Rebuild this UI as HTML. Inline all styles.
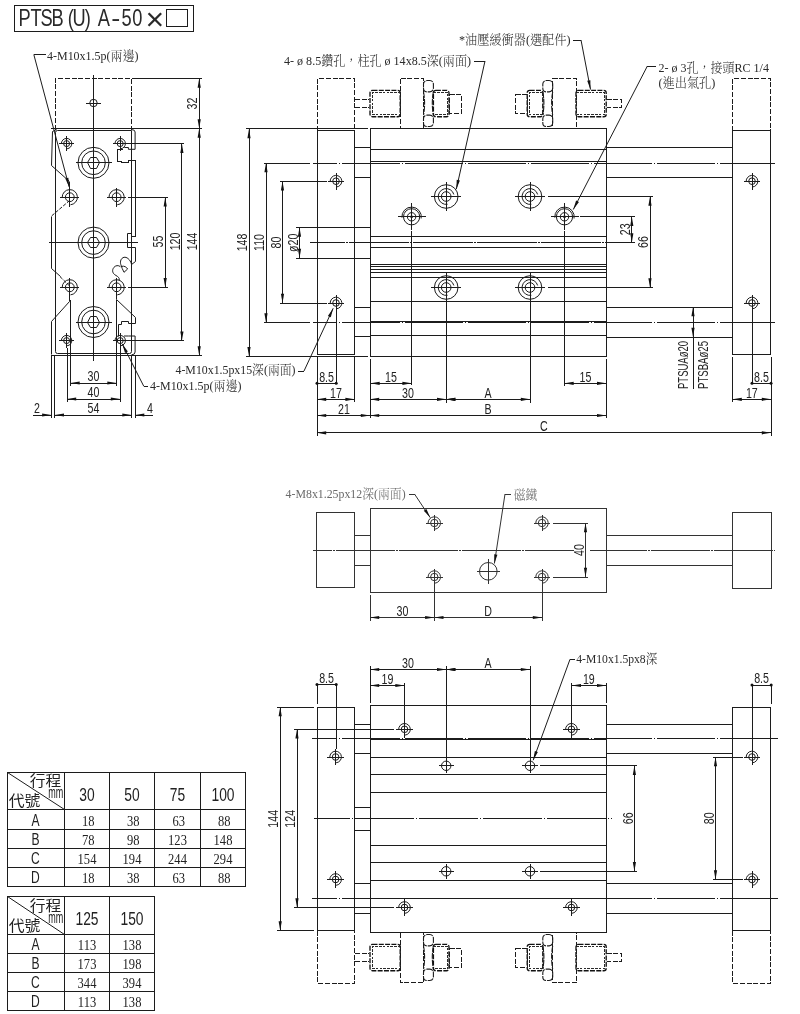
<!DOCTYPE html>
<html lang="zh-Hant">
<head>
<meta charset="utf-8">
<title>PTSB(U)A-50</title>
<style>
html,body{margin:0;padding:0;background:#fff}
svg{display:block;will-change:transform;opacity:.999}
.l{fill:none;stroke:#1c1c1c;stroke-width:1}
.tb{fill:none;stroke:#1c1c1c;stroke-width:1}
.cl{fill:none;stroke:#1c1c1c;stroke-width:1;stroke-dasharray:58 2 2.5 2}
.ds{fill:none;stroke:#1c1c1c;stroke-width:1;stroke-dasharray:5 1.7}
.ds2{fill:none;stroke:#2a2a2a;stroke-width:1.3;stroke-dasharray:2.6 1.2}
.dr{fill:none;stroke:#111;stroke-width:1.35;stroke-dasharray:5 1.3}
.ds3{fill:none;stroke:#1c1c1c;stroke-width:1;stroke-dasharray:3.5 1.5}
.dn{fill:none;stroke:#1c1c1c;stroke-width:1.1;stroke-dasharray:6 1}
.a{fill:#111;stroke:none}
.w{fill:#fff;stroke:none}
.c{shape-rendering:crispEdges}
.lk{fill:none;stroke:#1c1c1c;stroke-width:1.7}
text{fill:#1c1c1c}
.t{font-family:"Liberation Sans",sans-serif;font-size:23.4px;fill:#2a2a2a}
.tx{font-family:"Liberation Sans",sans-serif;font-size:32px;fill:#2a2a2a}
.d{font-family:"Liberation Sans",sans-serif;font-size:14.8px;fill:#222}
.d2{font-family:"Liberation Sans",sans-serif;font-size:14.8px;fill:#222}
.s{font-family:"Liberation Serif","Noto Serif CJK SC",serif;font-size:12.8px;font-weight:300;fill:#2a2a2a}
.sg{font-family:"Liberation Serif","Noto Serif CJK SC",serif;font-size:12.8px;font-weight:300;fill:#6a6a6a}
.mid .l,.mid .cl{stroke:#333}
.h{font-family:"Liberation Sans","Noto Sans CJK TC",sans-serif;font-size:15px;fill:#222}
.hm{font-family:"Liberation Sans",sans-serif;font-size:17px;fill:#222}
.hn{font-family:"Liberation Sans",sans-serif;font-size:18.2px;fill:#222}
.hl{font-family:"Liberation Sans",sans-serif;font-size:15.9px;fill:#222}
.tn{font-family:"Liberation Serif",serif;font-size:14.6px;fill:#222}
</style>
</head>
<body>
<svg width="800" height="1014" viewBox="0 0 800 1014">
<rect x="0" y="0" width="800" height="1014" fill="#fff"/>
<rect class="l c" x="14.5" y="5.5" width="179" height="26"/>
<text class="t" transform="translate(0 26.2) scale(0.78 1)" x="23.59 38.97 51.92 66.15 86.79 92.95 108.59 125.38">PTSB(U)A<tspan x="142.56" textLength="11.54" lengthAdjust="spacingAndGlyphs">-</tspan><tspan x="155.64 169.62">50</tspan></text>
<text class="tx" x="145.6" y="30.2">×</text>
<rect class="l c" x="166.5" y="9.5" width="21" height="17"/>
<path class="ds c" d="M55.5 129.5 L55.5 78.5 L131.5 78.5 L131.5 129.5"/>
<circle class="l" cx="93.5" cy="103" r="3.7"/>
<line class="l c" x1="86" y1="103.5" x2="101" y2="103.5"/>
<line class="l c" x1="93.5" y1="95.5" x2="93.5" y2="110.5"/>
<line class="l c" x1="93.5" y1="75" x2="93.5" y2="361"/>
<path class="l" d="M55.5 132.5 Q55.5 130.5 57.5 130.5 L131.5 130.5 L131.5 351.5 Q131.5 353.5 129.5 353.5 L57.5 353.5 Q55.5 353.5 55.5 351.5 Z"/>
<path class="l" d="M56.5 129.5 L52.5 131.5 L51.5 165.5 L69.5 181.5"/>
<line class="l c" x1="69.5" y1="181.5" x2="69.5" y2="190"/>
<line class="ds3" x1="69.6" y1="200.5" x2="51.5" y2="216"/>
<path class="l" d="M51.5 216.5 L51.5 268.5 L60.5 276.5"/>
<line class="ds3" x1="60" y1="276.6" x2="69.6" y2="286"/>
<path class="l" d="M69.5 290.5 L69.5 301.5 L51.5 321.5 L51.5 354.5"/>
<line class="l c" x1="51.5" y1="354.8" x2="51.5" y2="417.5"/>
<path class="l" d="M131.5 129.6 Q135.1 129.6 135.1 132 L135.1 149.3 L128.4 149.3 L128.4 147.5 L124.3 147.5"/>
<path class="l c" d="M122.5 149.5 L117.5 149.5 L117.5 161.5 L121.5 161.5 L121.5 162.5 L128.5 162.5 L128.5 160.5 L135.5 160.5 L135.5 236.5 L131.5 236.5"/>
<path class="l" d="M131.5 233.5 L127.5 233.5 L127.5 247.5 L135.5 247.5 L135.5 261.5 L131.5 264.5"/>
<path class="l" d="M131.6 264.3 C130 259 126.5 256.8 124 257.3 C121 258 119.8 261.5 120.8 264.5 C121.5 267 122.8 270 124 272.3 L127.6 269 C126.5 267 124.2 265.6 121.6 266.4"/>
<path class="l" d="M120.4 266.7 C118.5 265 115.5 265.3 113.8 267.5 C112 270 112.3 272.5 114.5 274.5 C116.5 276 118.6 276.6 119.2 278.6 L119.2 280.5"/>
<path class="l" d="M116.5 291.5 L116.5 299.5 L135.5 317.5 L135.5 323.5 L128.5 323.5 L128.5 321.5 L121.5 321.5 L121.5 324.5 L118.5 324.5 L118.5 336.5"/>
<path class="l" d="M124 336 L128.4 336 L128.4 336 L135.1 336 L135.1 352 Q135.1 354.8 131.5 354.8"/>
<line class="l c" x1="135.5" y1="354.8" x2="135.5" y2="417.5"/>
<circle class="l" cx="93.5" cy="162.8" r="15.5"/>
<circle class="l" cx="93.5" cy="162.8" r="11.8"/>
<path class="l" d="M99.5 162.5 L96.5 168.5 L90.5 168.5 L87.5 162.5 L90.5 157.5 L96.5 157.5 Z"/>
<line class="l c" x1="75.5" y1="162.5" x2="111.5" y2="162.5"/>
<circle class="l" cx="93.5" cy="242.6" r="15.5"/>
<circle class="l" cx="93.5" cy="242.6" r="11.8"/>
<path class="l" d="M99.5 242.5 L96.5 247.5 L90.5 247.5 L87.5 242.5 L90.5 237.5 L96.5 237.5 Z"/>
<line class="l c" x1="75.5" y1="242.5" x2="111.5" y2="242.5"/>
<circle class="l" cx="93.5" cy="322" r="15.5"/>
<circle class="l" cx="93.5" cy="322" r="11.8"/>
<path class="l" d="M99.5 322.5 L96.5 327.5 L90.5 327.5 L87.5 322.5 L90.5 316.5 L96.5 316.5 Z"/>
<line class="l c" x1="75.5" y1="322.5" x2="111.5" y2="322.5"/>
<line class="l c" x1="49" y1="242.5" x2="138" y2="242.5"/>
<circle class="l" cx="66.6" cy="143.6" r="3"/>
<path class="l" d="M61.4 143.78 A5.2 5.2 0 1 1 67.05 148.78"/>
<line class="l c" x1="59" y1="143.5" x2="74.2" y2="143.5"/>
<line class="l c" x1="66.5" y1="136" x2="66.5" y2="151.2"/>
<circle class="l" cx="120.2" cy="143.6" r="3"/>
<path class="l" d="M115 143.78 A5.2 5.2 0 1 1 120.65 148.78"/>
<line class="l c" x1="112.6" y1="143.5" x2="127.8" y2="143.5"/>
<line class="l c" x1="120.5" y1="136" x2="120.5" y2="151.2"/>
<circle class="l" cx="66.6" cy="340.6" r="3"/>
<path class="l" d="M61.4 340.78 A5.2 5.2 0 1 1 67.05 345.78"/>
<line class="l c" x1="59" y1="340.5" x2="74.2" y2="340.5"/>
<line class="l c" x1="66.5" y1="333" x2="66.5" y2="348.2"/>
<circle class="l" cx="120.2" cy="340.6" r="3"/>
<path class="l" d="M115 340.78 A5.2 5.2 0 1 1 120.65 345.78"/>
<line class="l c" x1="112.6" y1="340.5" x2="127.8" y2="340.5"/>
<line class="l c" x1="120.5" y1="333" x2="120.5" y2="348.2"/>
<circle class="l" cx="69.8" cy="197.2" r="4.4"/>
<path class="l" d="M62.2 197.47 A7.6 7.6 0 1 1 70.46 204.77"/>
<line class="l c" x1="60.2" y1="197.5" x2="79.4" y2="197.5"/>
<line class="l c" x1="69.5" y1="187.6" x2="69.5" y2="206.8"/>
<circle class="l" cx="116.6" cy="197.2" r="4.4"/>
<path class="l" d="M109 197.47 A7.6 7.6 0 1 1 117.26 204.77"/>
<line class="l c" x1="107" y1="197.5" x2="126.2" y2="197.5"/>
<line class="l c" x1="116.5" y1="187.6" x2="116.5" y2="206.8"/>
<circle class="l" cx="69.8" cy="287.3" r="4.4"/>
<path class="l" d="M62.2 287.57 A7.6 7.6 0 1 1 70.46 294.87"/>
<line class="l c" x1="60.2" y1="287.5" x2="79.4" y2="287.5"/>
<line class="l c" x1="69.5" y1="277.7" x2="69.5" y2="296.9"/>
<circle class="l" cx="116.6" cy="287.3" r="4.4"/>
<path class="l" d="M109 287.57 A7.6 7.6 0 1 1 117.26 294.87"/>
<line class="l c" x1="107" y1="287.5" x2="126.2" y2="287.5"/>
<line class="l c" x1="116.5" y1="277.7" x2="116.5" y2="296.9"/>
<line class="l c" x1="131.5" y1="78.5" x2="201.5" y2="78.5"/>
<line class="l c" x1="51.3" y1="128.5" x2="201.5" y2="128.5"/>
<line class="l c" x1="51.3" y1="355.5" x2="201.5" y2="355.5"/>
<line class="l c" x1="199.5" y1="78.5" x2="199.5" y2="128.5"/>
<polygon class="a" points="199.2,78.5 200.8,87.7 197.6,87.7"/>
<polygon class="a" points="199.2,128.5 197.6,119.3 200.8,119.3"/>
<text class="d" transform="translate(197.4 103.5) rotate(-90) scale(0.72 1)" text-anchor="middle">32</text>
<line class="l c" x1="199.5" y1="128.5" x2="199.5" y2="355.5"/>
<polygon class="a" points="199.2,128.5 200.8,137.7 197.6,137.7"/>
<polygon class="a" points="199.2,355.5 197.6,346.3 200.8,346.3"/>
<text class="d" transform="translate(197.4 241.5) rotate(-90) scale(0.72 1)" text-anchor="middle">144</text>
<line class="l c" x1="127" y1="143.5" x2="184.3" y2="143.5"/>
<line class="l c" x1="127" y1="340.5" x2="184.3" y2="340.5"/>
<line class="l c" x1="181.5" y1="143.7" x2="181.5" y2="340.6"/>
<polygon class="a" points="181.9,143.7 183.5,152.9 180.3,152.9"/>
<polygon class="a" points="181.9,340.6 180.3,331.4 183.5,331.4"/>
<text class="d" transform="translate(180.1 241.5) rotate(-90) scale(0.72 1)" text-anchor="middle">120</text>
<line class="l c" x1="128" y1="197.5" x2="167.8" y2="197.5"/>
<line class="l c" x1="128" y1="287.5" x2="167.8" y2="287.5"/>
<line class="l c" x1="165.5" y1="197.2" x2="165.5" y2="287.3"/>
<polygon class="a" points="165.2,197.2 166.8,206.4 163.6,206.4"/>
<polygon class="a" points="165.2,287.3 163.6,278.1 166.8,278.1"/>
<text class="d" transform="translate(163.4 241.5) rotate(-90) scale(0.72 1)" text-anchor="middle">55</text>
<line class="l c" x1="70.5" y1="300" x2="70.5" y2="386"/>
<line class="l c" x1="116.5" y1="300" x2="116.5" y2="386"/>
<line class="l c" x1="67.5" y1="348" x2="67.5" y2="402"/>
<line class="l c" x1="120.5" y1="348" x2="120.5" y2="402"/>
<line class="l c" x1="54.5" y1="354.8" x2="54.5" y2="417.5"/>
<line class="l c" x1="131.5" y1="354.8" x2="131.5" y2="417.5"/>
<line class="l c" x1="70.5" y1="383.5" x2="116.5" y2="383.5"/>
<polygon class="a" points="70.5,383 79.7,381.4 79.7,384.6"/>
<polygon class="a" points="116.5,383 107.3,384.6 107.3,381.4"/>
<text class="d" transform="translate(93.5 381.4) scale(0.72 1)" text-anchor="middle">30</text>
<line class="l c" x1="67" y1="399.5" x2="120" y2="399.5"/>
<polygon class="a" points="67,399 76.2,397.4 76.2,400.6"/>
<polygon class="a" points="120,399 110.8,400.6 110.8,397.4"/>
<text class="d" transform="translate(93.5 397.4) scale(0.72 1)" text-anchor="middle">40</text>
<line class="l c" x1="54.8" y1="415.5" x2="131.5" y2="415.5"/>
<polygon class="a" points="54.8,415 64,413.4 64,416.6"/>
<polygon class="a" points="131.5,415 122.3,416.6 122.3,413.4"/>
<text class="d" transform="translate(93.5 413.4) scale(0.72 1)" text-anchor="middle">54</text>
<line class="l c" x1="33" y1="415.5" x2="51.3" y2="415.5"/>
<polygon class="a" points="51.3,415 42.1,416.6 42.1,413.4"/>
<line class="l c" x1="135.1" y1="415.5" x2="153" y2="415.5"/>
<polygon class="a" points="135.1,415 144.3,413.4 144.3,416.6"/>
<text class="d" transform="translate(37 412.7) scale(0.72 1)" text-anchor="middle">2</text>
<text class="d" transform="translate(150 412.7) scale(0.72 1)" text-anchor="middle">4</text>
<line class="l c" x1="46" y1="54.5" x2="33.8" y2="54.5"/>
<line class="l" x1="33.8" y1="54.5" x2="69.2" y2="187"/>
<polygon class="a" points="69.2,187 65.28,178.52 68.37,177.7"/>
<line class="l c" x1="148" y1="386.5" x2="143.8" y2="386.5"/>
<line class="l" x1="143.8" y1="386.3" x2="122.3" y2="344"/>
<polygon class="a" points="122.3,344 127.89,351.48 125.04,352.93"/>
<text class="s" transform="translate(47 60.3)" text-anchor="start" textLength="91.5" lengthAdjust="spacingAndGlyphs">4-M10x1.5p(兩邊)</text>
<text class="s" transform="translate(150 390.3)" text-anchor="start" textLength="91.5" lengthAdjust="spacingAndGlyphs">4-M10x1.5p(兩邊)</text>
<line class="ds c" x1="355" y1="99.5" x2="369" y2="99.5"/>
<line class="ds c" x1="355" y1="107.5" x2="369" y2="107.5"/>
<rect class="dr" x="370" y="90.3" width="30.2" height="26.4" rx="2.5"/>
<path class="ds2 c" d="M400.5 92.5 L372.5 92.5 L372.5 114.5 L400.5 114.5"/>
<rect class="ds c" x="400.5" y="78.5" width="23" height="50"/>
<rect class="dn" x="423.5" y="80.5" width="9.9" height="11.4" rx="3.6"/>
<rect class="dn" x="423.5" y="115.1" width="9.9" height="11.4" rx="3.6"/>
<path class="dn" d="M423.5 91.9 Q425.7 103.5 423.5 115.1 M433.4 91.9 Q431.2 103.5 433.4 115.1"/>
<rect class="dr" x="433.4" y="90.3" width="15.6" height="26.4" rx="2.5"/>
<path class="ds2 c" d="M433.5 92.5 L447.5 92.5 L447.5 114.5 L433.5 114.5"/>
<rect class="ds c" x="449.5" y="94.5" width="12" height="19"/>
<path class="ds c" d="M606.5 99.5 L621.5 99.5 L621.5 107.5 L606.5 107.5"/>
<rect class="dr" x="576" y="90.3" width="30.2" height="26.4" rx="2.5"/>
<path class="ds2 c" d="M576.5 92.5 L604.5 92.5 L604.5 114.5 L576.5 114.5"/>
<rect class="ds c" x="552.5" y="78.5" width="24" height="50"/>
<rect class="dn" x="542.8" y="80.5" width="9.9" height="11.4" rx="3.6"/>
<rect class="dn" x="542.8" y="115.1" width="9.9" height="11.4" rx="3.6"/>
<path class="dn" d="M542.8 91.9 Q545 103.5 542.8 115.1 M552.7 91.9 Q550.5 103.5 552.7 115.1"/>
<rect class="dr" x="527.2" y="90.3" width="15.6" height="26.4" rx="2.5"/>
<path class="ds2 c" d="M542.5 92.5 L529.5 92.5 L529.5 114.5 L542.5 114.5"/>
<rect class="ds c" x="515.5" y="94.5" width="12" height="19"/>
<line class="ds c" x1="355" y1="953.5" x2="369" y2="953.5"/>
<line class="ds c" x1="355" y1="961.5" x2="369" y2="961.5"/>
<rect class="dr" x="370" y="944.3" width="30.2" height="26.4" rx="2.5"/>
<path class="ds2 c" d="M400.5 946.5 L372.5 946.5 L372.5 968.5 L400.5 968.5"/>
<rect class="ds c" x="400.5" y="932.5" width="23" height="50"/>
<rect class="dn" x="423.5" y="934.5" width="9.9" height="11.4" rx="3.6"/>
<rect class="dn" x="423.5" y="969.1" width="9.9" height="11.4" rx="3.6"/>
<path class="dn" d="M423.5 945.9 Q425.7 957.5 423.5 969.1 M433.4 945.9 Q431.2 957.5 433.4 969.1"/>
<rect class="dr" x="433.4" y="944.3" width="15.6" height="26.4" rx="2.5"/>
<path class="ds2 c" d="M433.5 946.5 L447.5 946.5 L447.5 968.5 L433.5 968.5"/>
<rect class="ds c" x="449.5" y="948.5" width="12" height="19"/>
<path class="ds c" d="M606.5 953.5 L621.5 953.5 L621.5 961.5 L606.5 961.5"/>
<rect class="dr" x="576" y="944.3" width="30.2" height="26.4" rx="2.5"/>
<path class="ds2 c" d="M576.5 946.5 L604.5 946.5 L604.5 968.5 L576.5 968.5"/>
<rect class="ds c" x="552.5" y="932.5" width="24" height="50"/>
<rect class="dn" x="542.8" y="934.5" width="9.9" height="11.4" rx="3.6"/>
<rect class="dn" x="542.8" y="969.1" width="9.9" height="11.4" rx="3.6"/>
<path class="dn" d="M542.8 945.9 Q545 957.5 542.8 969.1 M552.7 945.9 Q550.5 957.5 552.7 969.1"/>
<rect class="dr" x="527.2" y="944.3" width="15.6" height="26.4" rx="2.5"/>
<path class="ds2 c" d="M542.5 946.5 L529.5 946.5 L529.5 968.5 L542.5 968.5"/>
<rect class="ds c" x="515.5" y="948.5" width="12" height="19"/>
<path class="ds c" d="M317.5 130.5 L317.5 78.5 L354.5 78.5 L354.5 130.5"/>
<path class="ds c" d="M732.5 130.5 L732.5 78.5 L770.5 78.5 L770.5 130.5"/>
<rect class="l c" x="317.5" y="130.5" width="37" height="224"/>
<rect class="l c" x="732.5" y="130.5" width="38" height="224"/>
<rect class="l c" x="370.5" y="128.5" width="236" height="228"/>
<line class="l c" x1="370.3" y1="149.5" x2="606.2" y2="149.5"/>
<line class="l c" x1="370.3" y1="161.5" x2="606.2" y2="161.5"/>
<line class="l c" x1="370.3" y1="236.5" x2="606.2" y2="236.5"/>
<line class="l c" x1="370.3" y1="247.5" x2="606.2" y2="247.5"/>
<line class="l c" x1="370.3" y1="264.5" x2="606.2" y2="264.5"/>
<line class="l c" x1="370.3" y1="266.5" x2="606.2" y2="266.5"/>
<line class="l c" x1="370.3" y1="269.5" x2="606.2" y2="269.5"/>
<line class="l c" x1="370.3" y1="272.5" x2="606.2" y2="272.5"/>
<line class="l c" x1="370.3" y1="277.5" x2="606.2" y2="277.5"/>
<line class="l c" x1="370.3" y1="301.5" x2="606.2" y2="301.5"/>
<line class="l c" x1="370.3" y1="321.5" x2="606.2" y2="321.5"/>
<line class="l c" x1="370.3" y1="335.5" x2="606.2" y2="335.5"/>
<line class="l c" x1="354.6" y1="147.5" x2="370.3" y2="147.5"/>
<line class="l c" x1="354.6" y1="177.5" x2="370.3" y2="177.5"/>
<line class="l c" x1="354.6" y1="227.5" x2="370.3" y2="227.5"/>
<line class="l c" x1="354.6" y1="258.5" x2="370.3" y2="258.5"/>
<line class="l c" x1="354.6" y1="307.5" x2="370.3" y2="307.5"/>
<line class="l c" x1="354.6" y1="336.5" x2="370.3" y2="336.5"/>
<line class="l c" x1="606.2" y1="147.5" x2="732.6" y2="147.5"/>
<line class="l c" x1="606.2" y1="177.5" x2="732.6" y2="177.5"/>
<line class="l c" x1="606.2" y1="307.5" x2="732.6" y2="307.5"/>
<line class="l c" x1="606.2" y1="337.5" x2="732.6" y2="337.5"/>
<line class="l c" x1="264" y1="163.5" x2="310" y2="163.5"/>
<line class="l c" x1="264" y1="322.5" x2="310" y2="322.5"/>
<line class="cl c" style="stroke-dasharray:58.5 1.5 1.5 1.5;stroke-dashoffset:33.75" x1="312.5" y1="163.5" x2="774.5" y2="163.5"/>
<line class="cl c" style="stroke-dasharray:58.5 1.5 1.5 1.5;stroke-dashoffset:33.75" x1="312.5" y1="322.5" x2="774.5" y2="322.5"/>
<line class="cl c" style="stroke-dasharray:59.5 1.5 1.5 1.5;stroke-dashoffset:24.75" x1="310" y1="242.5" x2="634.5" y2="242.5"/>
<line class="l c" x1="246" y1="128.5" x2="367.5" y2="128.5"/>
<line class="l c" x1="246" y1="356.5" x2="367.5" y2="356.5"/>
<circle class="l" cx="336" cy="181.2" r="3.3"/>
<path class="l" d="M330.2 181.4 A5.8 5.8 0 1 1 336.51 186.98"/>
<line class="l c" x1="327.6" y1="181.5" x2="344.4" y2="181.5"/>
<line class="l c" x1="336.5" y1="172.8" x2="336.5" y2="189.6"/>
<circle class="l" cx="336" cy="303" r="3.3"/>
<path class="l" d="M330.2 303.2 A5.8 5.8 0 1 1 336.51 308.78"/>
<line class="l c" x1="327.6" y1="303.5" x2="344.4" y2="303.5"/>
<line class="l c" x1="336.5" y1="294.6" x2="336.5" y2="311.4"/>
<circle class="l" cx="752" cy="181.2" r="3.3"/>
<path class="l" d="M746.2 181.4 A5.8 5.8 0 1 1 752.51 186.98"/>
<line class="l c" x1="743.6" y1="181.5" x2="760.4" y2="181.5"/>
<line class="l c" x1="752.5" y1="172.8" x2="752.5" y2="189.6"/>
<circle class="l" cx="752" cy="303" r="3.3"/>
<path class="l" d="M746.2 303.2 A5.8 5.8 0 1 1 752.51 308.78"/>
<line class="l c" x1="743.6" y1="303.5" x2="760.4" y2="303.5"/>
<line class="l c" x1="752.5" y1="294.6" x2="752.5" y2="311.4"/>
<circle class="l" cx="446.2" cy="196.5" r="11.8"/>
<path class="l" d="M447.57 204.28 A7.9 7.9 0 1 1 453.83 194.46"/>
<circle class="l" cx="446.2" cy="196.5" r="4.8"/>
<line class="l c" x1="431.4" y1="196.5" x2="461" y2="196.5"/>
<line class="l c" x1="446.5" y1="181.7" x2="446.5" y2="211.3"/>
<circle class="l" cx="446.2" cy="287.5" r="11.8"/>
<path class="l" d="M447.57 295.28 A7.9 7.9 0 1 1 453.83 285.46"/>
<circle class="l" cx="446.2" cy="287.5" r="4.8"/>
<line class="l c" x1="431.4" y1="287.5" x2="461" y2="287.5"/>
<line class="l c" x1="446.5" y1="272.7" x2="446.5" y2="302.3"/>
<circle class="l" cx="530" cy="196.5" r="11.8"/>
<path class="l" d="M531.37 204.28 A7.9 7.9 0 1 1 537.63 194.46"/>
<circle class="l" cx="530" cy="196.5" r="4.8"/>
<line class="l c" x1="515.2" y1="196.5" x2="544.8" y2="196.5"/>
<line class="l c" x1="530.5" y1="181.7" x2="530.5" y2="211.3"/>
<circle class="l" cx="530" cy="287.5" r="11.8"/>
<path class="l" d="M531.37 295.28 A7.9 7.9 0 1 1 537.63 285.46"/>
<circle class="l" cx="530" cy="287.5" r="4.8"/>
<line class="l c" x1="515.2" y1="287.5" x2="544.8" y2="287.5"/>
<line class="l c" x1="530.5" y1="272.7" x2="530.5" y2="302.3"/>
<path class="l" d="M401.94 217.65 A9.7 9.7 0 1 1 421.15 218.48"/>
<circle class="l" cx="411.6" cy="216.8" r="8.1"/>
<circle class="l" cx="411.6" cy="216.8" r="4.2"/>
<circle class="a" cx="411.6" cy="216.8" r="1.4"/>
<line class="l c" x1="397.6" y1="216.5" x2="425.6" y2="216.5"/>
<line class="l c" x1="411.5" y1="203.3" x2="411.5" y2="230.3"/>
<path class="l" d="M554.84 217.65 A9.7 9.7 0 1 1 574.05 218.48"/>
<circle class="l" cx="564.5" cy="216.8" r="8.1"/>
<circle class="l" cx="564.5" cy="216.8" r="4.2"/>
<circle class="a" cx="564.5" cy="216.8" r="1.4"/>
<line class="l c" x1="550.5" y1="216.5" x2="578.5" y2="216.5"/>
<line class="l c" x1="564.5" y1="203.3" x2="564.5" y2="230.3"/>
<line class="l c" x1="249.5" y1="129" x2="249.5" y2="356.2"/>
<polygon class="a" points="249,129 250.6,138.2 247.4,138.2"/>
<polygon class="a" points="249,356.2 247.4,347 250.6,347"/>
<text class="d" transform="translate(247.2 242.5) rotate(-90) scale(0.72 1)" text-anchor="middle">148</text>
<line class="l c" x1="266.5" y1="163" x2="266.5" y2="322.5"/>
<polygon class="a" points="266,163 267.6,172.2 264.4,172.2"/>
<polygon class="a" points="266,322.5 264.4,313.3 267.6,313.3"/>
<text class="d" transform="translate(264.2 242.5) rotate(-90) scale(0.72 1)" text-anchor="middle">110</text>
<line class="l c" x1="280" y1="181.5" x2="327" y2="181.5"/>
<line class="l c" x1="280" y1="303.5" x2="327" y2="303.5"/>
<line class="l c" x1="282.5" y1="181.2" x2="282.5" y2="303"/>
<polygon class="a" points="282.5,181.2 284.1,190.4 280.9,190.4"/>
<polygon class="a" points="282.5,303 280.9,293.8 284.1,293.8"/>
<text class="d" transform="translate(280.7 242.5) rotate(-90) scale(0.72 1)" text-anchor="middle">80</text>
<line class="l c" x1="296" y1="227.5" x2="354.6" y2="227.5"/>
<line class="l c" x1="296" y1="258.5" x2="354.6" y2="258.5"/>
<line class="l c" x1="299.5" y1="227.5" x2="299.5" y2="258"/>
<polygon class="a" points="299.5,227.5 301.1,236.7 297.9,236.7"/>
<polygon class="a" points="299.5,258 297.9,248.8 301.1,248.8"/>
<text class="d" transform="translate(297.7 242.8) rotate(-90) scale(0.72 1)" text-anchor="middle">ø20</text>
<line class="l c" x1="547.5" y1="196.5" x2="652.5" y2="196.5"/>
<line class="l c" x1="547.5" y1="287.5" x2="652.5" y2="287.5"/>
<line class="l c" x1="650.5" y1="196.5" x2="650.5" y2="287.5"/>
<polygon class="a" points="650,196.5 651.6,205.7 648.4,205.7"/>
<polygon class="a" points="650,287.5 648.4,278.3 651.6,278.3"/>
<text class="d" transform="translate(648.2 242) rotate(-90) scale(0.72 1)" text-anchor="middle">66</text>
<line class="l c" x1="580" y1="216.5" x2="634.5" y2="216.5"/>
<line class="l c" x1="631.5" y1="216.8" x2="631.5" y2="242.5"/>
<polygon class="a" points="631.8,216.8 633.4,226 630.2,226"/>
<polygon class="a" points="631.8,242.5 630.2,233.3 633.4,233.3"/>
<text class="d" transform="translate(630 229.3) rotate(-90) scale(0.72 1)" text-anchor="middle">23</text>
<line class="l c" x1="693.5" y1="307" x2="693.5" y2="389"/>
<polygon class="a" points="693,307 694.6,316.2 691.4,316.2"/>
<polygon class="a" points="693,337 691.4,327.8 694.6,327.8"/>
<text class="d2" transform="translate(688 389) rotate(-90)" text-anchor="start" textLength="48" lengthAdjust="spacingAndGlyphs">PTSUAø20</text>
<text class="d2" transform="translate(707.8 389) rotate(-90)" text-anchor="start" textLength="48" lengthAdjust="spacingAndGlyphs">PTSBAø25</text>
<line class="l c" x1="317.5" y1="356.5" x2="317.5" y2="436"/>
<line class="l c" x1="336.5" y1="311" x2="336.5" y2="384"/>
<line class="l c" x1="354.5" y1="356.5" x2="354.5" y2="401.5"/>
<line class="l c" x1="370.5" y1="359" x2="370.5" y2="418"/>
<line class="l c" x1="411.5" y1="231" x2="411.5" y2="384.5"/>
<line class="l c" x1="446.5" y1="272.6" x2="446.5" y2="402.5"/>
<line class="l c" x1="530.5" y1="272.6" x2="530.5" y2="402.5"/>
<line class="l c" x1="564.5" y1="231" x2="564.5" y2="386"/>
<line class="l c" x1="606.5" y1="359" x2="606.5" y2="418"/>
<line class="l c" x1="732.5" y1="357" x2="732.5" y2="402"/>
<line class="l c" x1="752.5" y1="311" x2="752.5" y2="384"/>
<line class="l c" x1="771.5" y1="357" x2="771.5" y2="435.5"/>
<line class="l c" x1="317" y1="383.5" x2="336.2" y2="383.5"/>
<circle class="a" cx="317" cy="383.3" r="1.5"/>
<circle class="a" cx="336.2" cy="383.3" r="1.5"/>
<text class="d" transform="translate(326.6 381.7) scale(0.72 1)" text-anchor="middle">8.5</text>
<line class="l c" x1="317" y1="399.5" x2="354.6" y2="399.5"/>
<polygon class="a" points="317,399.3 326.2,397.7 326.2,400.9"/>
<polygon class="a" points="354.6,399.3 345.4,400.9 345.4,397.7"/>
<text class="d" transform="translate(336 397.7) scale(0.72 1)" text-anchor="middle">17</text>
<line class="l c" x1="317" y1="415.5" x2="370" y2="415.5"/>
<polygon class="a" points="317,415.5 326.2,413.9 326.2,417.1"/>
<polygon class="a" points="370,415.5 360.8,417.1 360.8,413.9"/>
<text class="d" transform="translate(344 413.9) scale(0.72 1)" text-anchor="middle">21</text>
<line class="l c" x1="317" y1="432.5" x2="771" y2="432.5"/>
<polygon class="a" points="317,432.8 326.2,431.2 326.2,434.4"/>
<polygon class="a" points="771,432.8 761.8,434.4 761.8,431.2"/>
<text class="d" transform="translate(543.8 431.2) scale(0.72 1)" text-anchor="middle">C</text>
<line class="l c" x1="370.5" y1="383.5" x2="411.6" y2="383.5"/>
<polygon class="a" points="370.5,383.3 379.7,381.7 379.7,384.9"/>
<polygon class="a" points="411.6,383.3 402.4,384.9 402.4,381.7"/>
<text class="d" transform="translate(391 381.7) scale(0.72 1)" text-anchor="middle">15</text>
<line class="l c" x1="370" y1="399.5" x2="446.2" y2="399.5"/>
<polygon class="a" points="370,399.3 379.2,397.7 379.2,400.9"/>
<polygon class="a" points="446.2,399.3 437,400.9 437,397.7"/>
<text class="d" transform="translate(408 397.7) scale(0.72 1)" text-anchor="middle">30</text>
<polygon class="a" points="446.2,399.3 455.4,397.7 455.4,400.9"/>
<line class="l c" x1="446.2" y1="399.5" x2="530" y2="399.5"/>
<polygon class="a" points="446.2,399.3 455.4,397.7 455.4,400.9"/>
<polygon class="a" points="530,399.3 520.8,400.9 520.8,397.7"/>
<text class="d" transform="translate(488 397.7) scale(0.72 1)" text-anchor="middle">A</text>
<line class="l c" x1="370" y1="415.5" x2="606.2" y2="415.5"/>
<polygon class="a" points="370,415.5 379.2,413.9 379.2,417.1"/>
<polygon class="a" points="606.2,415.5 597,417.1 597,413.9"/>
<text class="d" transform="translate(488 413.9) scale(0.72 1)" text-anchor="middle">B</text>
<line class="l c" x1="564.5" y1="383.5" x2="606.2" y2="383.5"/>
<polygon class="a" points="564.5,383.3 573.7,381.7 573.7,384.9"/>
<polygon class="a" points="606.2,383.3 597,384.9 597,381.7"/>
<text class="d" transform="translate(585.5 381.7) scale(0.72 1)" text-anchor="middle">15</text>
<line class="l c" x1="752" y1="383.5" x2="771" y2="383.5"/>
<circle class="a" cx="752" cy="383.3" r="1.5"/>
<circle class="a" cx="771" cy="383.3" r="1.5"/>
<text class="d" transform="translate(761.5 381.7) scale(0.72 1)" text-anchor="middle">8.5</text>
<line class="l c" x1="732.6" y1="399.5" x2="771" y2="399.5"/>
<polygon class="a" points="732.6,399.3 741.8,397.7 741.8,400.9"/>
<polygon class="a" points="771,399.3 761.8,400.9 761.8,397.7"/>
<text class="d" transform="translate(751.8 397.7) scale(0.72 1)" text-anchor="middle">17</text>
<text class="s" transform="translate(284 64.8)" text-anchor="start" textLength="187" lengthAdjust="spacingAndGlyphs">4- ø 8.5鑽孔，柱孔 ø 14x8.5深(兩面)</text>
<line class="l c" x1="474" y1="61.5" x2="485" y2="61.5"/>
<line class="l" x1="485" y1="61" x2="456.3" y2="189.2"/>
<polygon class="a" points="456.3,189.2 456.75,179.87 459.87,180.57"/>
<text class="s" transform="translate(459 44.3)" text-anchor="start" textLength="111.5" lengthAdjust="spacingAndGlyphs">*油壓緩衝器(選配件)</text>
<line class="l c" x1="572.5" y1="40.5" x2="581" y2="40.5"/>
<line class="l" x1="581" y1="40" x2="590.5" y2="89.5"/>
<polygon class="a" points="590.5,89.5 587.19,80.77 590.34,80.16"/>
<text class="s" transform="translate(658.4 71.6)" text-anchor="start" textLength="110.5" lengthAdjust="spacingAndGlyphs">2- ø 3孔，接頭RC 1/4</text>
<text class="s" transform="translate(658.4 86.9)" text-anchor="start" textLength="57" lengthAdjust="spacingAndGlyphs">(進出氣孔)</text>
<line class="l c" x1="656" y1="66.5" x2="647.4" y2="66.5"/>
<line class="l" x1="647.4" y1="66" x2="573.3" y2="209.5"/>
<polygon class="a" points="573.3,209.5 576.1,200.59 578.94,202.06"/>
<text class="s" transform="translate(175.5 374.3)" text-anchor="start" textLength="120" lengthAdjust="spacingAndGlyphs">4-M10x1.5px15深(兩面)</text>
<line class="l c" x1="297.5" y1="371.5" x2="304" y2="371.5"/>
<line class="l" x1="304" y1="371" x2="333.2" y2="308.3"/>
<polygon class="a" points="333.2,308.3 330.77,317.32 327.87,315.96"/>
<g class="mid">
<rect class="l c" x="370.5" y="508.5" width="236" height="84"/>
<rect class="l c" x="316.5" y="512.5" width="38" height="75"/>
<rect class="l c" x="732.5" y="512.5" width="39" height="76"/>
<line class="l c" x1="354.6" y1="535.5" x2="370" y2="535.5"/>
<line class="l c" x1="606.3" y1="535.5" x2="732.6" y2="535.5"/>
<line class="l c" x1="354.6" y1="565.5" x2="370" y2="565.5"/>
<line class="l c" x1="606.3" y1="565.5" x2="732.6" y2="565.5"/>
<line class="cl c" style="stroke-dasharray:58.5 1.5 1.5 1.5;stroke-dashoffset:39.25" x1="312.5" y1="550.5" x2="774.5" y2="550.5"/>
<circle class="l" cx="434.3" cy="523" r="3.7"/>
<path class="l" d="M428.1 523.22 A6.2 6.2 0 1 1 434.84 529.18"/>
<line class="l c" x1="425.9" y1="523.5" x2="442.7" y2="523.5"/>
<line class="l c" x1="434.5" y1="514.6" x2="434.5" y2="531.4"/>
<circle class="l" cx="434.3" cy="577" r="3.7"/>
<path class="l" d="M428.1 577.22 A6.2 6.2 0 1 1 434.84 583.18"/>
<line class="l c" x1="425.9" y1="577.5" x2="442.7" y2="577.5"/>
<line class="l c" x1="434.5" y1="568.6" x2="434.5" y2="585.4"/>
<circle class="l" cx="542" cy="523" r="3.7"/>
<path class="l" d="M535.8 523.22 A6.2 6.2 0 1 1 542.54 529.18"/>
<line class="l c" x1="533.6" y1="523.5" x2="550.4" y2="523.5"/>
<line class="l c" x1="542.5" y1="514.6" x2="542.5" y2="531.4"/>
<circle class="l" cx="542" cy="577" r="3.7"/>
<path class="l" d="M535.8 577.22 A6.2 6.2 0 1 1 542.54 583.18"/>
<line class="l c" x1="533.6" y1="577.5" x2="550.4" y2="577.5"/>
<line class="l c" x1="542.5" y1="568.6" x2="542.5" y2="585.4"/>
<circle class="l" cx="488.3" cy="571.3" r="8.8"/>
<line class="l c" x1="477" y1="571.5" x2="499.6" y2="571.5"/>
<line class="l c" x1="488.5" y1="558.8" x2="488.5" y2="583.8"/>
<line class="l c" x1="370.5" y1="595" x2="370.5" y2="620.5"/>
<line class="l c" x1="434.5" y1="584" x2="434.5" y2="620.5"/>
<line class="l c" x1="542.5" y1="584" x2="542.5" y2="620.5"/>
<line class="l c" x1="370" y1="617.5" x2="434.3" y2="617.5"/>
<polygon class="a" points="370,617.5 379.2,615.9 379.2,619.1"/>
<polygon class="a" points="434.3,617.5 425.1,619.1 425.1,615.9"/>
<text class="d" transform="translate(402.5 615.9) scale(0.72 1)" text-anchor="middle">30</text>
<line class="l c" x1="434.3" y1="617.5" x2="542" y2="617.5"/>
<polygon class="a" points="434.3,617.5 443.5,615.9 443.5,619.1"/>
<polygon class="a" points="542,617.5 532.8,619.1 532.8,615.9"/>
<text class="d" transform="translate(488 615.9) scale(0.72 1)" text-anchor="middle">D</text>
<line class="l c" x1="552.5" y1="523.5" x2="588" y2="523.5"/>
<line class="l c" x1="552.5" y1="577.5" x2="588" y2="577.5"/>
<rect class="w" x="574" y="548" width="16" height="4"/>
<line class="l c" x1="585.5" y1="523" x2="585.5" y2="577"/>
<polygon class="a" points="585.5,523 587.1,532.2 583.9,532.2"/>
<polygon class="a" points="585.5,577 583.9,567.8 587.1,567.8"/>
<text class="d" transform="translate(583.7 550) rotate(-90) scale(0.72 1)" text-anchor="middle">40</text>
<text class="sg" transform="translate(285.6 497.6)" text-anchor="start" textLength="120" lengthAdjust="spacingAndGlyphs">4-M8x1.25px12深(兩面)</text>
<line class="l c" x1="409" y1="494.5" x2="414.5" y2="494.5"/>
<line class="l" x1="414.5" y1="494" x2="430.2" y2="517.6"/>
<polygon class="a" points="430.2,517.6 423.77,510.83 426.44,509.05"/>
<text class="sg" transform="translate(513.8 498.8)" text-anchor="start" textLength="23.6" lengthAdjust="spacingAndGlyphs">磁鐵</text>
<line class="l c" x1="511" y1="494.5" x2="505" y2="494.5"/>
<line class="l" x1="505" y1="494" x2="494.4" y2="563.5"/>
<polygon class="a" points="494.4,563.5 494.21,554.16 497.37,554.65"/>
</g>
<rect class="l c" x="370.5" y="705.5" width="236" height="227"/>
<rect class="l c" x="317.5" y="707.5" width="37" height="223"/>
<rect class="l c" x="732.5" y="707.5" width="38" height="223"/>
<path class="ds c" d="M317.5 930.5 L317.5 983.5 L354.5 983.5 L354.5 930.5"/>
<path class="ds c" d="M732.5 930.5 L732.5 983.5 L770.5 983.5 L770.5 930.5"/>
<line class="l c" x1="370" y1="757.5" x2="606.2" y2="757.5"/>
<line class="l c" x1="370" y1="774.5" x2="606.2" y2="774.5"/>
<line class="l c" x1="370" y1="792.5" x2="606.2" y2="792.5"/>
<line class="l c" x1="370" y1="845.5" x2="606.2" y2="845.5"/>
<line class="l c" x1="370" y1="862.5" x2="606.2" y2="862.5"/>
<line class="l c" x1="370" y1="880.5" x2="606.2" y2="880.5"/>
<line class="lk c" x1="370" y1="739.5" x2="606.2" y2="739.5"/>
<line class="lk c" x1="370" y1="898.5" x2="606.2" y2="898.5"/>
<line class="l c" x1="354.6" y1="724.5" x2="370" y2="724.5"/>
<line class="l c" x1="354.6" y1="753.5" x2="370" y2="753.5"/>
<line class="l c" x1="354.6" y1="807.5" x2="370" y2="807.5"/>
<line class="l c" x1="354.6" y1="830.5" x2="370" y2="830.5"/>
<line class="l c" x1="354.6" y1="883.5" x2="370" y2="883.5"/>
<line class="l c" x1="354.6" y1="913.5" x2="370" y2="913.5"/>
<line class="l c" x1="606.2" y1="724.5" x2="732.6" y2="724.5"/>
<line class="l c" x1="606.2" y1="753.5" x2="732.6" y2="753.5"/>
<line class="l c" x1="606.2" y1="883.5" x2="732.6" y2="883.5"/>
<line class="l c" x1="606.2" y1="913.5" x2="732.6" y2="913.5"/>
<line class="cl c" style="stroke-dasharray:58.5 1.5 1.5 1.5;stroke-dashoffset:33.25" x1="312" y1="738.5" x2="777.5" y2="738.5"/>
<line class="cl c" style="stroke-dasharray:59.5 1.5 1.5 1.5;stroke-dashoffset:23.05" x1="313.8" y1="818.5" x2="612" y2="818.5"/>
<line class="cl c" style="stroke-dasharray:58.5 1.5 1.5 1.5;stroke-dashoffset:33.25" x1="312" y1="898.5" x2="777.5" y2="898.5"/>
<circle class="l" cx="404.5" cy="729.3" r="3.3"/>
<path class="l" d="M398.7 729.5 A5.8 5.8 0 1 1 405.01 735.08"/>
<line class="l c" x1="396.1" y1="729.5" x2="412.9" y2="729.5"/>
<line class="l c" x1="404.5" y1="720.9" x2="404.5" y2="737.7"/>
<circle class="l" cx="404.5" cy="907.5" r="3.3"/>
<path class="l" d="M398.7 907.7 A5.8 5.8 0 1 1 405.01 913.28"/>
<line class="l c" x1="396.1" y1="907.5" x2="412.9" y2="907.5"/>
<line class="l c" x1="404.5" y1="899.1" x2="404.5" y2="915.9"/>
<circle class="l" cx="571.4" cy="729.3" r="3.3"/>
<path class="l" d="M565.6 729.5 A5.8 5.8 0 1 1 571.91 735.08"/>
<line class="l c" x1="563" y1="729.5" x2="579.8" y2="729.5"/>
<line class="l c" x1="571.5" y1="720.9" x2="571.5" y2="737.7"/>
<circle class="l" cx="571.4" cy="907.5" r="3.3"/>
<path class="l" d="M565.6 907.7 A5.8 5.8 0 1 1 571.91 913.28"/>
<line class="l c" x1="563" y1="907.5" x2="579.8" y2="907.5"/>
<line class="l c" x1="571.5" y1="899.1" x2="571.5" y2="915.9"/>
<circle class="l" cx="335.6" cy="757" r="3.3"/>
<path class="l" d="M329.8 757.2 A5.8 5.8 0 1 1 336.11 762.78"/>
<line class="l c" x1="327.2" y1="757.5" x2="344" y2="757.5"/>
<line class="l c" x1="335.5" y1="748.6" x2="335.5" y2="765.4"/>
<circle class="l" cx="335.6" cy="879.5" r="3.3"/>
<path class="l" d="M329.8 879.7 A5.8 5.8 0 1 1 336.11 885.28"/>
<line class="l c" x1="327.2" y1="879.5" x2="344" y2="879.5"/>
<line class="l c" x1="335.5" y1="871.1" x2="335.5" y2="887.9"/>
<circle class="l" cx="752" cy="757" r="3.3"/>
<path class="l" d="M746.2 757.2 A5.8 5.8 0 1 1 752.51 762.78"/>
<line class="l c" x1="743.6" y1="757.5" x2="760.4" y2="757.5"/>
<line class="l c" x1="752.5" y1="748.6" x2="752.5" y2="765.4"/>
<circle class="l" cx="752" cy="879.5" r="3.3"/>
<path class="l" d="M746.2 879.7 A5.8 5.8 0 1 1 752.51 885.28"/>
<line class="l c" x1="743.6" y1="879.5" x2="760.4" y2="879.5"/>
<line class="l c" x1="752.5" y1="871.1" x2="752.5" y2="887.9"/>
<circle class="l" cx="446.2" cy="765.8" r="4.7"/>
<line class="l c" x1="438.6" y1="765.5" x2="453.8" y2="765.5"/>
<line class="l c" x1="446.5" y1="758.2" x2="446.5" y2="773.4"/>
<circle class="l" cx="446.2" cy="871.3" r="4.7"/>
<line class="l c" x1="438.6" y1="871.5" x2="453.8" y2="871.5"/>
<line class="l c" x1="446.5" y1="863.7" x2="446.5" y2="878.9"/>
<circle class="l" cx="530" cy="765.8" r="4.7"/>
<line class="l c" x1="522.4" y1="765.5" x2="537.6" y2="765.5"/>
<line class="l c" x1="530.5" y1="758.2" x2="530.5" y2="773.4"/>
<circle class="l" cx="530" cy="871.3" r="4.7"/>
<line class="l c" x1="522.4" y1="871.5" x2="537.6" y2="871.5"/>
<line class="l c" x1="530.5" y1="863.7" x2="530.5" y2="878.9"/>
<line class="l c" x1="277" y1="707.5" x2="313.8" y2="707.5"/>
<line class="l c" x1="277" y1="930.5" x2="313.8" y2="930.5"/>
<line class="l c" x1="280.5" y1="707" x2="280.5" y2="930.5"/>
<polygon class="a" points="280.2,707 281.8,716.2 278.6,716.2"/>
<polygon class="a" points="280.2,930.5 278.6,921.3 281.8,921.3"/>
<text class="d" transform="translate(278.4 818.8) rotate(-90) scale(0.72 1)" text-anchor="middle">144</text>
<line class="l c" x1="293.8" y1="729.5" x2="394" y2="729.5"/>
<line class="l c" x1="293.8" y1="907.5" x2="394" y2="907.5"/>
<line class="l c" x1="297.5" y1="729.3" x2="297.5" y2="907.5"/>
<polygon class="a" points="297,729.3 298.6,738.5 295.4,738.5"/>
<polygon class="a" points="297,907.5 295.4,898.3 298.6,898.3"/>
<text class="d" transform="translate(295.2 818.8) rotate(-90) scale(0.72 1)" text-anchor="middle">124</text>
<line class="l c" x1="540" y1="765.5" x2="637" y2="765.5"/>
<line class="l c" x1="540" y1="871.5" x2="637" y2="871.5"/>
<line class="l c" x1="634.5" y1="765.8" x2="634.5" y2="871.3"/>
<polygon class="a" points="634.4,765.8 636,775 632.8,775"/>
<polygon class="a" points="634.4,871.3 632.8,862.1 636,862.1"/>
<text class="d" transform="translate(632.6 818.3) rotate(-90) scale(0.72 1)" text-anchor="middle">66</text>
<line class="l c" x1="712.5" y1="757.5" x2="742.5" y2="757.5"/>
<line class="l c" x1="712.5" y1="879.5" x2="742.5" y2="879.5"/>
<line class="l c" x1="715.5" y1="757" x2="715.5" y2="879.5"/>
<polygon class="a" points="715.5,757 717.1,766.2 713.9,766.2"/>
<polygon class="a" points="715.5,879.5 713.9,870.3 717.1,870.3"/>
<text class="d" transform="translate(713.7 818.3) rotate(-90) scale(0.72 1)" text-anchor="middle">80</text>
<line class="l c" x1="370.5" y1="666" x2="370.5" y2="702.5"/>
<line class="l c" x1="446.5" y1="666" x2="446.5" y2="761"/>
<line class="l c" x1="530.5" y1="666" x2="530.5" y2="761"/>
<line class="l c" x1="404.5" y1="683" x2="404.5" y2="722"/>
<line class="l c" x1="571.5" y1="683" x2="571.5" y2="722"/>
<line class="l c" x1="606.5" y1="682.5" x2="606.5" y2="702.5"/>
<line class="l c" x1="317.5" y1="684.5" x2="317.5" y2="703.8"/>
<line class="l c" x1="336.5" y1="684.5" x2="336.5" y2="749"/>
<line class="l c" x1="752.5" y1="685" x2="752.5" y2="749"/>
<line class="l c" x1="771.5" y1="685" x2="771.5" y2="703.8"/>
<line class="l c" x1="370" y1="669.5" x2="446.2" y2="669.5"/>
<polygon class="a" points="370,669.5 379.2,667.9 379.2,671.1"/>
<polygon class="a" points="446.2,669.5 437,671.1 437,667.9"/>
<text class="d" transform="translate(408 667.9) scale(0.72 1)" text-anchor="middle">30</text>
<polygon class="a" points="446.2,669.5 455.4,667.9 455.4,671.1"/>
<line class="l c" x1="446.2" y1="669.5" x2="530" y2="669.5"/>
<polygon class="a" points="446.2,669.5 455.4,667.9 455.4,671.1"/>
<polygon class="a" points="530,669.5 520.8,671.1 520.8,667.9"/>
<text class="d" transform="translate(488 667.9) scale(0.72 1)" text-anchor="middle">A</text>
<line class="l c" x1="370" y1="685.5" x2="404.5" y2="685.5"/>
<polygon class="a" points="370,685.5 379.2,683.9 379.2,687.1"/>
<polygon class="a" points="404.5,685.5 395.3,687.1 395.3,683.9"/>
<text class="d" transform="translate(387.5 683.9) scale(0.72 1)" text-anchor="middle">19</text>
<line class="l c" x1="571.8" y1="685.5" x2="606.2" y2="685.5"/>
<polygon class="a" points="571.8,685.5 581,683.9 581,687.1"/>
<polygon class="a" points="606.2,685.5 597,687.1 597,683.9"/>
<text class="d" transform="translate(588.8 683.9) scale(0.72 1)" text-anchor="middle">19</text>
<line class="l c" x1="317" y1="684.5" x2="336.2" y2="684.5"/>
<circle class="a" cx="317" cy="684.6" r="1.5"/>
<circle class="a" cx="336.2" cy="684.6" r="1.5"/>
<text class="d" transform="translate(326.6 683) scale(0.72 1)" text-anchor="middle">8.5</text>
<line class="l c" x1="752" y1="685.5" x2="771.2" y2="685.5"/>
<circle class="a" cx="752" cy="685" r="1.5"/>
<circle class="a" cx="771.2" cy="685" r="1.5"/>
<text class="d" transform="translate(761.6 683.4) scale(0.72 1)" text-anchor="middle">8.5</text>
<text class="s" transform="translate(576.3 663.3)" text-anchor="start" textLength="81" lengthAdjust="spacingAndGlyphs">4-M10x1.5px8深</text>
<line class="l c" x1="574.5" y1="659.5" x2="570" y2="659.5"/>
<line class="l" x1="570" y1="659.3" x2="533.2" y2="760.2"/>
<polygon class="a" points="533.2,760.2 534.85,751.01 537.86,752.11"/>
<rect class="tb c" x="7.5" y="772.5" width="238" height="114"/>
<line class="tb c" x1="7.5" y1="809.5" x2="245.5" y2="809.5"/>
<line class="tb c" x1="7.5" y1="829.5" x2="245.5" y2="829.5"/>
<line class="tb c" x1="7.5" y1="848.5" x2="245.5" y2="848.5"/>
<line class="tb c" x1="7.5" y1="867.5" x2="245.5" y2="867.5"/>
<line class="tb c" x1="64.5" y1="772.5" x2="64.5" y2="886.5"/>
<line class="tb c" x1="109.5" y1="772.5" x2="109.5" y2="886.5"/>
<line class="tb c" x1="154.5" y1="772.5" x2="154.5" y2="886.5"/>
<line class="tb c" x1="200.5" y1="772.5" x2="200.5" y2="886.5"/>
<line class="tb" x1="7.5" y1="772.5" x2="64.5" y2="809.5"/>
<text class="h" transform="translate(29.8 786.2)" text-anchor="start" textLength="31.6" lengthAdjust="spacingAndGlyphs">行程</text>
<text class="hm" transform="translate(48.2 798.2)" text-anchor="start" textLength="15" lengthAdjust="spacingAndGlyphs">mm</text>
<text class="h" transform="translate(8.8 806.2)" text-anchor="start" textLength="31.6" lengthAdjust="spacingAndGlyphs">代號</text>
<text class="hn" transform="translate(87 800.6) scale(0.76 1)" text-anchor="middle">30</text>
<text class="hn" transform="translate(132 800.6) scale(0.76 1)" text-anchor="middle">50</text>
<text class="hn" transform="translate(177.5 800.6) scale(0.76 1)" text-anchor="middle">75</text>
<text class="hn" transform="translate(223 800.6) scale(0.76 1)" text-anchor="middle">100</text>
<text class="hl" transform="translate(35.4 826.2) scale(0.76 1)" text-anchor="middle">A</text>
<text class="tn" transform="translate(88.3 825.5) scale(0.86 1)" text-anchor="middle">18</text>
<text class="tn" transform="translate(133.3 825.5) scale(0.86 1)" text-anchor="middle">38</text>
<text class="tn" transform="translate(178.8 825.5) scale(0.86 1)" text-anchor="middle">63</text>
<text class="tn" transform="translate(224.3 825.5) scale(0.86 1)" text-anchor="middle">88</text>
<text class="hl" transform="translate(35.4 845.2) scale(0.76 1)" text-anchor="middle">B</text>
<text class="tn" transform="translate(88.3 844.5) scale(0.86 1)" text-anchor="middle">78</text>
<text class="tn" transform="translate(133.3 844.5) scale(0.86 1)" text-anchor="middle">98</text>
<text class="tn" transform="translate(177.5 844.5) scale(0.86 1)" text-anchor="middle">123</text>
<text class="tn" transform="translate(223 844.5) scale(0.86 1)" text-anchor="middle">148</text>
<text class="hl" transform="translate(35.4 864.2) scale(0.76 1)" text-anchor="middle">C</text>
<text class="tn" transform="translate(87 863.5) scale(0.86 1)" text-anchor="middle">154</text>
<text class="tn" transform="translate(132 863.5) scale(0.86 1)" text-anchor="middle">194</text>
<text class="tn" transform="translate(177.5 863.5) scale(0.86 1)" text-anchor="middle">244</text>
<text class="tn" transform="translate(223 863.5) scale(0.86 1)" text-anchor="middle">294</text>
<text class="hl" transform="translate(35.4 883.2) scale(0.76 1)" text-anchor="middle">D</text>
<text class="tn" transform="translate(88.3 882.5) scale(0.86 1)" text-anchor="middle">18</text>
<text class="tn" transform="translate(133.3 882.5) scale(0.86 1)" text-anchor="middle">38</text>
<text class="tn" transform="translate(178.8 882.5) scale(0.86 1)" text-anchor="middle">63</text>
<text class="tn" transform="translate(224.3 882.5) scale(0.86 1)" text-anchor="middle">88</text>
<rect class="tb c" x="7.5" y="896.5" width="147" height="114"/>
<line class="tb c" x1="7.5" y1="934.5" x2="154.5" y2="934.5"/>
<line class="tb c" x1="7.5" y1="953.5" x2="154.5" y2="953.5"/>
<line class="tb c" x1="7.5" y1="972.5" x2="154.5" y2="972.5"/>
<line class="tb c" x1="7.5" y1="991.5" x2="154.5" y2="991.5"/>
<line class="tb c" x1="64.5" y1="896.5" x2="64.5" y2="1010.5"/>
<line class="tb c" x1="109.5" y1="896.5" x2="109.5" y2="1010.5"/>
<line class="tb" x1="7.5" y1="896.5" x2="64.5" y2="934.5"/>
<text class="h" transform="translate(29.8 910.6)" text-anchor="start" textLength="31.6" lengthAdjust="spacingAndGlyphs">行程</text>
<text class="hm" transform="translate(48.2 922.6)" text-anchor="start" textLength="15" lengthAdjust="spacingAndGlyphs">mm</text>
<text class="h" transform="translate(8.8 930.6)" text-anchor="start" textLength="31.6" lengthAdjust="spacingAndGlyphs">代號</text>
<text class="hn" transform="translate(87 925) scale(0.76 1)" text-anchor="middle">125</text>
<text class="hn" transform="translate(132 925) scale(0.76 1)" text-anchor="middle">150</text>
<text class="hl" transform="translate(35.4 950.2) scale(0.76 1)" text-anchor="middle">A</text>
<text class="tn" transform="translate(87 949.5) scale(0.86 1)" text-anchor="middle">113</text>
<text class="tn" transform="translate(132 949.5) scale(0.86 1)" text-anchor="middle">138</text>
<text class="hl" transform="translate(35.4 969.2) scale(0.76 1)" text-anchor="middle">B</text>
<text class="tn" transform="translate(87 968.5) scale(0.86 1)" text-anchor="middle">173</text>
<text class="tn" transform="translate(132 968.5) scale(0.86 1)" text-anchor="middle">198</text>
<text class="hl" transform="translate(35.4 988.2) scale(0.76 1)" text-anchor="middle">C</text>
<text class="tn" transform="translate(87 987.5) scale(0.86 1)" text-anchor="middle">344</text>
<text class="tn" transform="translate(132 987.5) scale(0.86 1)" text-anchor="middle">394</text>
<text class="hl" transform="translate(35.4 1007.2) scale(0.76 1)" text-anchor="middle">D</text>
<text class="tn" transform="translate(87 1006.5) scale(0.86 1)" text-anchor="middle">113</text>
<text class="tn" transform="translate(132 1006.5) scale(0.86 1)" text-anchor="middle">138</text>
</svg>
</body>
</html>
